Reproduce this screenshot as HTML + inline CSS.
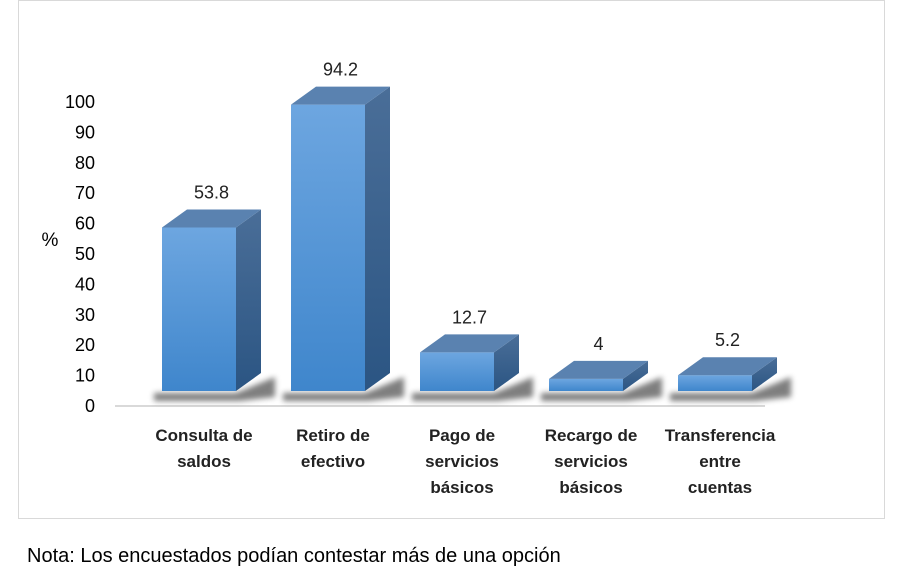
<!DOCTYPE html>
<html><head><meta charset="utf-8"><style>
body{margin:0;background:#fff;}
svg{display:block;font-family:"Liberation Sans",Arial,sans-serif;}
</style></head><body>
<svg id="chart" width="900" height="580">
<defs>
<linearGradient id="front" x1="0" y1="0" x2="0" y2="1"><stop offset="0" stop-color="#6da6e0"/><stop offset="1" stop-color="#3f86cc"/></linearGradient>
<linearGradient id="side" x1="0" y1="0" x2="0" y2="1"><stop offset="0" stop-color="#4a6e98"/><stop offset="1" stop-color="#2b5583"/></linearGradient>
<filter id="sh" x="-20%" y="-50%" width="140%" height="200%"><feGaussianBlur stdDeviation="3"/></filter>
</defs>
<rect x="18.5" y="0.5" width="866" height="518" fill="#fff" stroke="#d9d9d9"/>
<line x1="115" y1="406" x2="765" y2="406" stroke="#d9d9d9" stroke-width="2"/>
<text x="50" y="246" font-size="19" text-anchor="middle">%</text>
<g id="yticks"></g><g id="bars"></g><g id="cats"></g>
<text x="27" y="562" font-size="20">Nota: Los encuestados podían contestar más de una opción</text>
</svg>
<script>
const categories=[["Consulta de","saldos"],["Retiro de","efectivo"],["Pago de","servicios","básicos"],["Recargo de","servicios","básicos"],["Transferencia","entre","cuentas"]];
const values=[53.8,94.2,12.7,4,5.2];
const valueLabels=["53.8","94.2","12.7","4","5.2"];
const yTicks=[0,10,20,30,40,50,60,70,80,90,100];
const NS="http://www.w3.org/2000/svg";
const yTick=v=>406-v*3.04;
const yBar=v=>391-v*3.04;
const xBar=i=>162+i*129;
const W=74,DX=25,DY=18;
function mk(t,a,p,txt){const e=document.createElementNS(NS,t);for(const k in a)e.setAttribute(k,a[k]);if(txt!=null)e.textContent=txt;p.appendChild(e);return e;}
const yt=document.getElementById('yticks');
yTicks.forEach(v=>{const e=mk('text',{x:95,y:yTick(v)+6,'font-size':18,'text-anchor':'end'},yt,String(v));

});
const bg=document.getElementById('bars');
values.forEach((v,i)=>{const x=xBar(i),top=yBar(v),b=391;
const g=mk('g',{},bg);


mk('polygon',{points:`${x-8},${b+2} ${x+W},${b+2} ${x+W+DX+14},${b-DY+4} ${x+W+DX+14},${b+6} ${x+W+4},${b+10} ${x-8},${b+10}`,fill:'#000',opacity:0.5,filter:'url(#sh)'},g);
mk('rect',{x:x,y:top,width:W,height:b-top,fill:'url(#front)'},g);
mk('polygon',{points:`${x+W},${top} ${x+W+DX},${top-DY} ${x+W+DX},${b-DY} ${x+W},${b}`,fill:'url(#side)'},g);
mk('polygon',{points:`${x},${top} ${x+DX},${top-DY} ${x+W+DX},${top-DY} ${x+W},${top}`,fill:'#5a82b0'},g);
const t=mk('text',{x:x+W/2+DX/2,y:top-DY-11,'font-size':18,'text-anchor':'middle',fill:'#222'},g,valueLabels[i]);

});
const cg=document.getElementById('cats');
categories.forEach((lines,i)=>{const t=mk('text',{'font-size':17,'font-weight':'bold','text-anchor':'middle',fill:'#222'},cg);


lines.forEach((l,j)=>mk('tspan',{x:xBar(i)+W/2+5,y:441+j*26},t,l));});
</script>
</body></html>
